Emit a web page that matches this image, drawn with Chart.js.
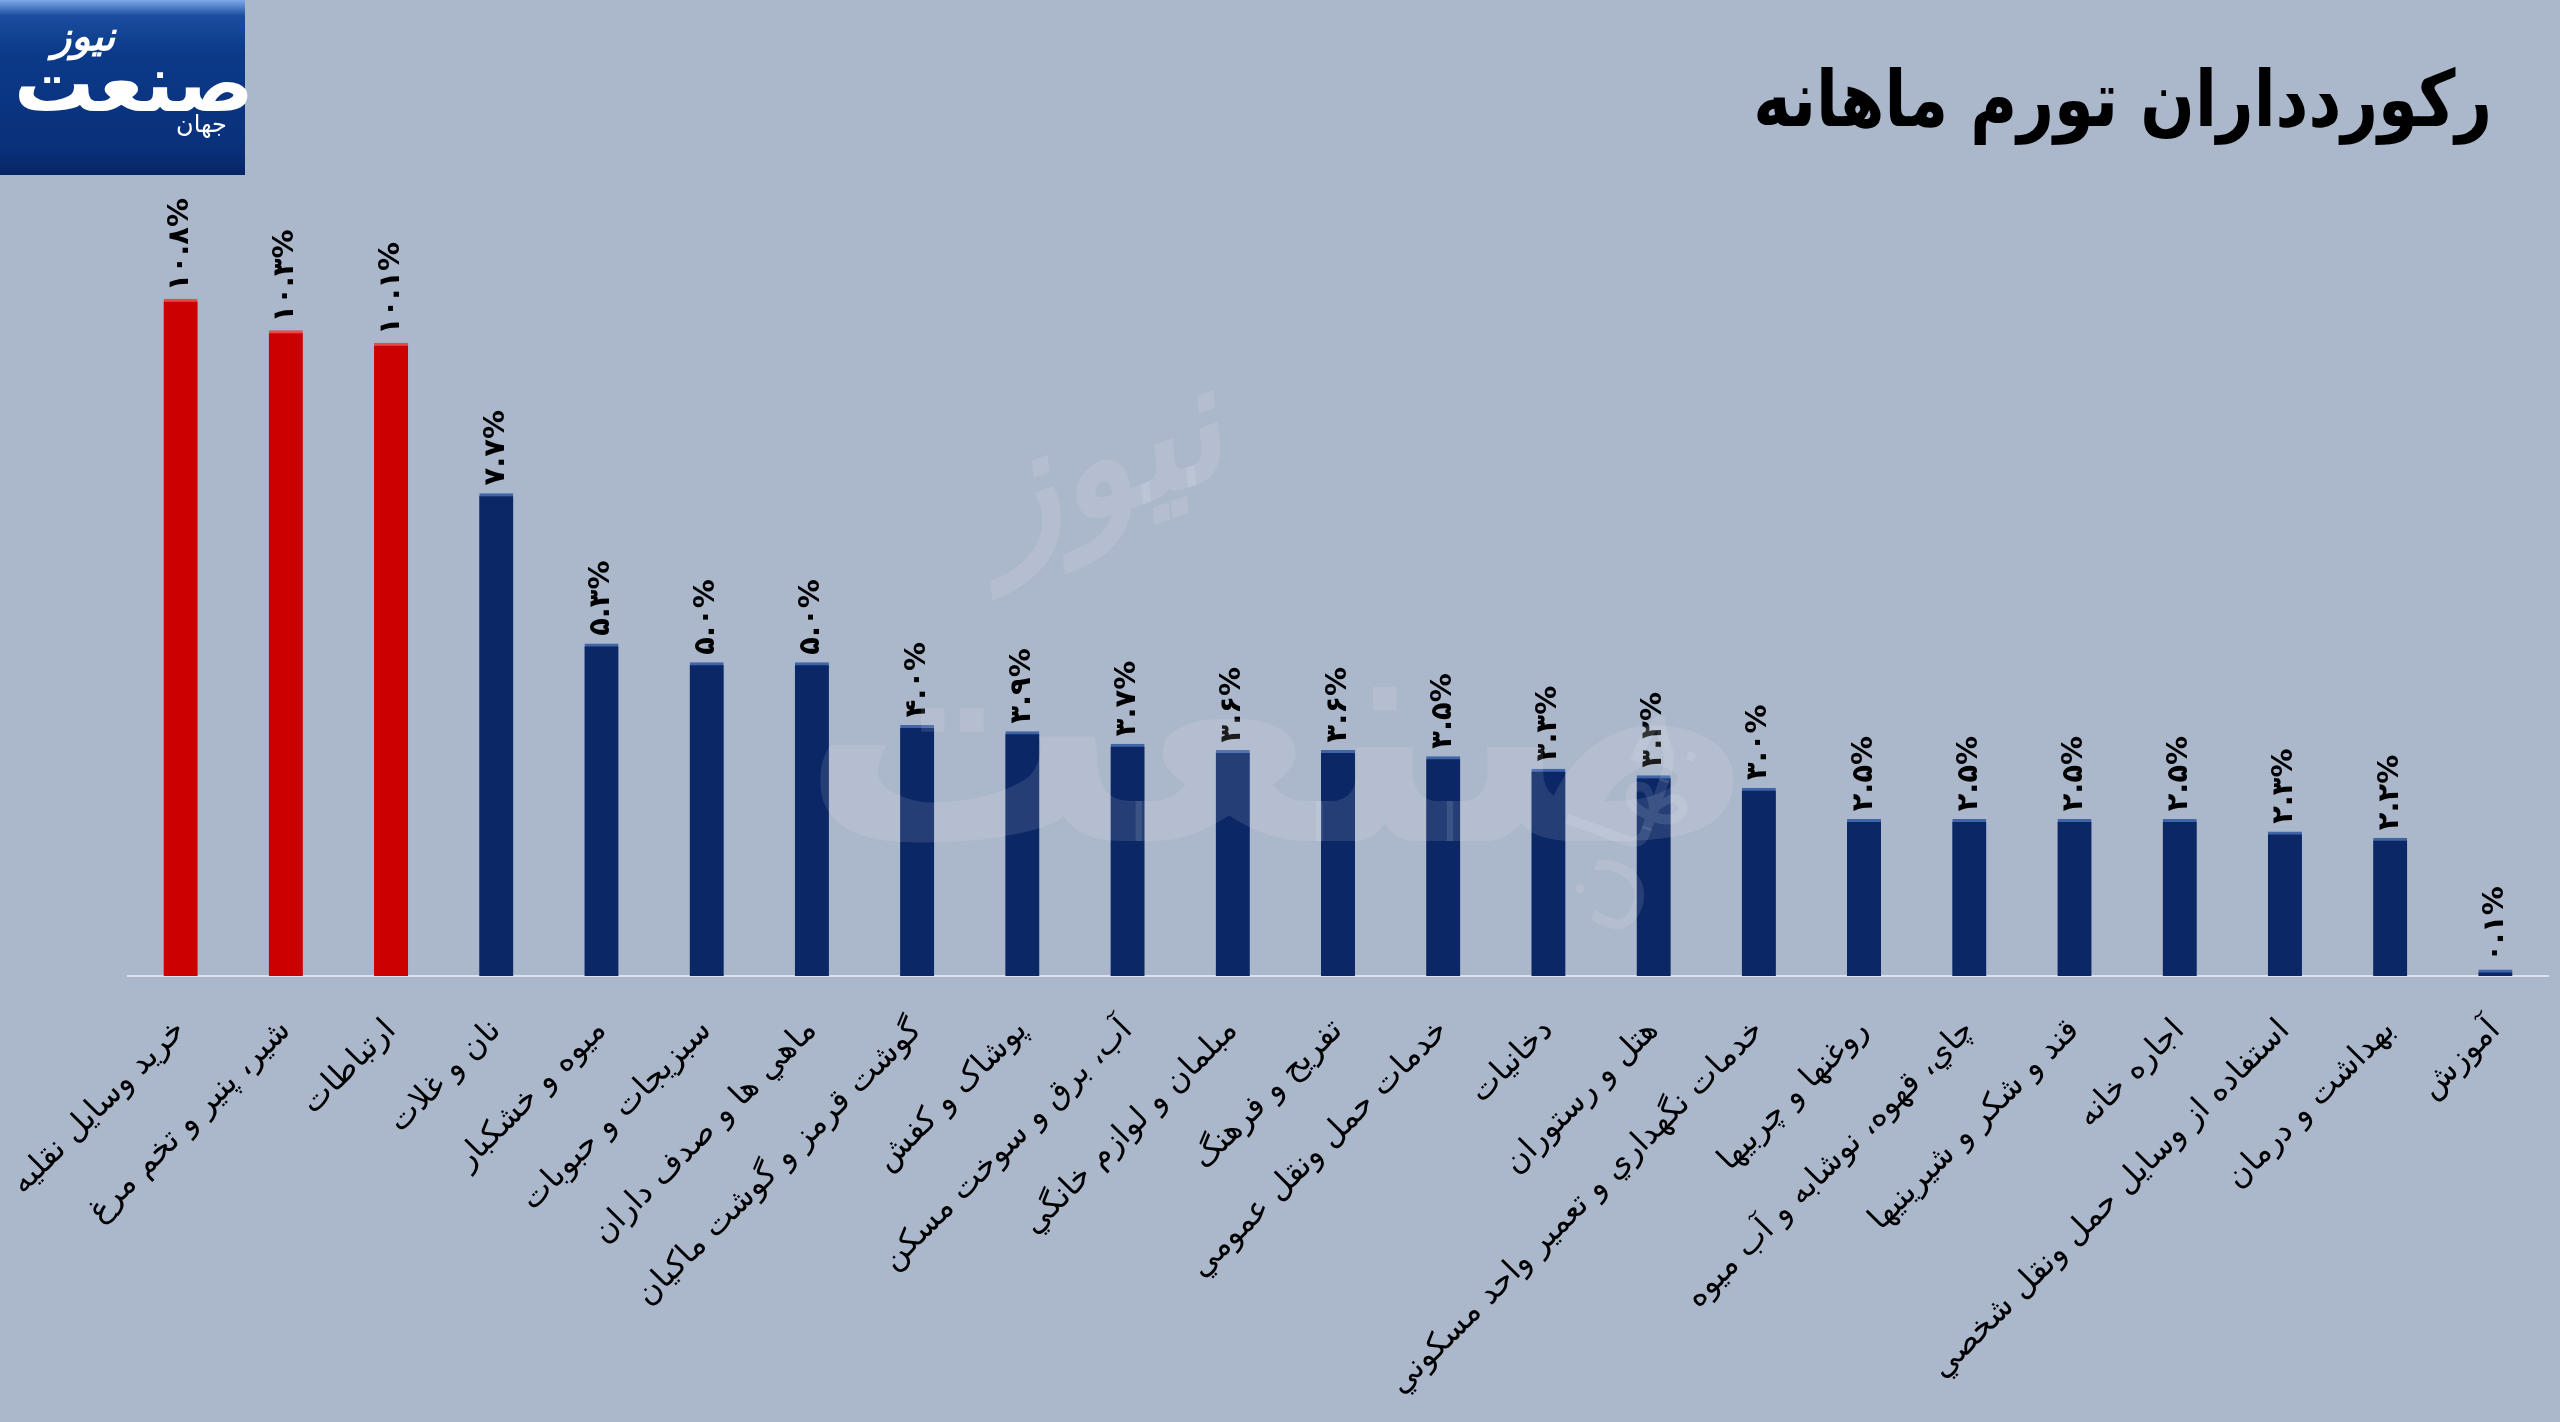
<!DOCTYPE html>
<html lang="fa">
<head>
<meta charset="utf-8">
<title>رکوردداران تورم ماهانه</title>
<script src="https://cdn.jsdelivr.net/npm/chart.js@4.4.1/dist/chart.umd.min.js"></script>
<style>
  html, body { margin: 0; padding: 0; }
  body { width: 2560px; height: 1422px; background: #abb7cb; overflow: hidden; position: relative; font-family: "DejaVu Sans", sans-serif; }
  #wrap { position: absolute; left: 0; top: 0; width: 2560px; height: 1422px; }
  #logo {
    position: absolute; left: 0; top: 0; width: 245px; height: 175px;
    background: linear-gradient(#7fa9ea 0%, #1a4d9e 9%, #0b3a8a 30%, #0a3079 85%, #082563 100%);
    color: #fff; direction: rtl;
  }
  #logo .big { position: absolute; left: 14px; top: 44px; font-size: 80px; font-weight: bold; line-height: 1; }
  #logo .top { position: absolute; left: 52px; top: 16px; font-size: 40px; font-weight: bold; font-style: italic; line-height: 1; }
  #logo .small { position: absolute; left: 176px; top: 112px; font-size: 24px; line-height: 1; }
  #title {
    position: absolute; right: 68px; top: 60px; font-size: 78px; font-weight: bold;
    color: #000; direction: rtl; line-height: 1; transform: scaleX(0.82); transform-origin: right center;
  }
  #mark { position: absolute; left: 780px; top: 380px; width: 1000px; height: 560px; pointer-events: none; color: rgba(255,255,255,0.11); direction: rtl; }
  #mark .w1 { position: absolute; left: 20px; top: 190px; font-size: 320px; font-weight: bold; line-height: 1; }
  #mark .w2 { position: absolute; left: 190px; top: 0px; font-size: 160px; font-weight: bold; font-style: italic; line-height: 1; transform: rotate(-20deg); }
  #mark .w3 { position: absolute; left: 720px; top: 380px; font-size: 110px; line-height: 1; transform: rotate(-70deg); }
</style>
</head>
<body>
<div id="wrap"><canvas id="grafica" width="2560" height="1422"></canvas></div>
<div id="mark"><span class="w2">نیوز</span><span class="w1">صنعت</span><span class="w3">جهان</span></div>
<div id="logo"><span class="top">نیوز</span><span class="big">صنعت</span><span class="small">جهان</span></div>
<div id="title">رکوردداران تورم ماهانه</div>
<script>
const categorias = [
    'خرید وسایل نقلیه',
    'شیر، پنیر و تخم مرغ',
    'ارتباطات',
    'نان و غلات',
    'میوه و خشکبار',
    'سبزیجات و حبوبات',
    'ماهي ها و صدف داران',
    'گوشت قرمز و گوشت ماکیان',
    'پوشاک و کفش',
    'آب، برق و سوخت مسکن',
    'مبلمان و لوازم خانگي',
    'تفریح و فرهنگ',
    'خدمات حمل ونقل عمومي',
    'دخانیات',
    'هتل و رستوران',
    'خدمات نگهداري و تعمير واحد مسكوني',
    'روغنها و چربیها',
    'چاي، قهوه، نوشابه و آب میوه',
    'قند و شکر و شیرينيها',
    'اجاره خانه',
    'استفاده از وسایل حمل ونقل شخصي',
    'بهداشت و درمان',
    'آموزش'
];
const tasas = [10.8, 10.3, 10.1, 7.7, 5.3, 5.0, 5.0, 4.0, 3.9, 3.7, 3.6, 3.6, 3.5, 3.3, 3.2, 3.0, 2.5, 2.5, 2.5, 2.5, 2.3, 2.2, 0.1];
// los tres primeros van en rojo
const destacados = [true, true, true, false, false, false, false, false, false, false, false, false, false, false, false, false, false, false, false, false, false, false, false];

const rojo = '#cc0000'
const azul = '#0b2766'

const digitos = '۰۱۲۳۴۵۶۷۸۹'
function aPersa(v){
    return v.toFixed(1).replace(/[0-9]/g, d => digitos[d]) + '%'
}

// etiquetas verticales encima de cada barra
const etiquetas = {
    id: 'etiquetas',
    afterDatasetsDraw(chart){
        const ctx = chart.ctx
        const meta = chart.getDatasetMeta(0)
        ctx.save()
        ctx.font = 'bold 29px "DejaVu Sans"'
        ctx.fillStyle = '#000'
        ctx.textAlign = 'left'
        ctx.textBaseline = 'middle'
        meta.data.forEach((bar, i) => {
            ctx.save()
            ctx.translate(bar.x, bar.y - 8)
            ctx.rotate(-Math.PI / 2)
            ctx.fillText(aPersa(tasas[i]), 0, 0)
            ctx.restore()
        })
        ctx.restore()
    }
}

let ctxGrafica = document.getElementById('grafica').getContext('2d')
const miGrafica = new Chart(ctxGrafica, {
    type: 'bar',
    data: {
        labels: categorias,
        datasets: [{
            data: tasas,
            backgroundColor: destacados.map(d => d ? rojo : azul),
            borderColor: destacados.map(d => d ? '#e84a4a' : '#3f64a8'),
            borderWidth: {top: 3, left: 0, right: 0, bottom: 0},
            borderSkipped: 'bottom',
            barThickness: 34
        }]
    },
    options: {
        responsive: false,
        animation: false,
        layout: { padding: { left: 128, right: 12, top: 224, bottom: 0 } },
        plugins: { legend: { display: false }, tooltip: { enabled: false } },
        scales: {
            x: {
                grid: { display: false, drawTicks: false },
                border: { display: true, color: '#dde2ea', width: 2 },
                ticks: {
                    color: '#000',
                    font: { family: 'DejaVu Sans', size: 32 },
                    minRotation: 45,
                    maxRotation: 45,
                    autoSkip: false,
                    padding: 36
                },
                afterFit(scale){
                    scale.height = 446
                    scale.paddingLeft = 0
                    scale.paddingRight = 0
                }
            },
            y: {
                display: false,
                min: 0,
                max: 12
            }
        }
    },
    plugins: [etiquetas]
});
</script>
</body>
</html>
